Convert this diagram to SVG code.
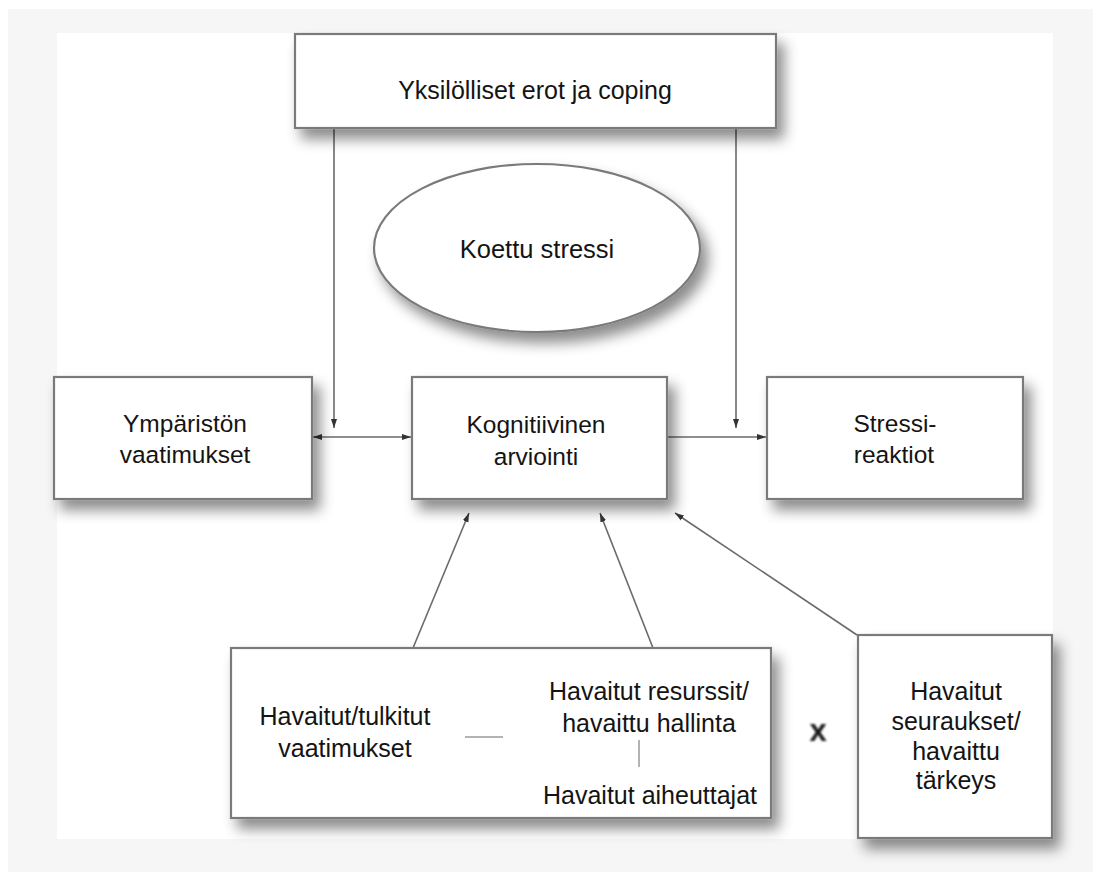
<svg xmlns="http://www.w3.org/2000/svg" width="1093" height="872" viewBox="0 0 1093 872">
  <style>
    .box { fill: #ffffff; stroke: #7a7a7a; stroke-width: 2.2; filter: url(#shadow); }
    .lbl { font-family: "Liberation Sans", Arial, sans-serif; font-size: 25px; fill: #141414; text-anchor: middle; }
    .mid { font-size: 24.5px; }
    .wire { fill: none; stroke: #6a6a6a; stroke-width: 1.6; }
    .tick { fill: none; stroke: #9a9a9a; stroke-width: 1.5; }
  </style>
  <defs>
    <filter id="shadow" x="-15%" y="-15%" width="140%" height="150%">
      <feDropShadow dx="7" dy="10" stdDeviation="7" flood-color="#000000" flood-opacity="0.45"/>
    </filter>
    <filter id="soft" x="-30%" y="-30%" width="160%" height="160%">
      <feGaussianBlur stdDeviation="0.8"/>
    </filter>
    <marker id="head" markerUnits="userSpaceOnUse" markerWidth="10" markerHeight="8" refX="9" refY="4" orient="auto-start-reverse">
      <path d="M0,1 L9,4 L0,7 z" fill="#333333"/>
    </marker>
  </defs>

  <!-- page background -->
  <rect x="0" y="0" width="1093" height="872" fill="#ffffff"/>
  <rect x="8" y="9" width="1085" height="863" fill="#f6f6f6"/>
  <rect x="57" y="33" width="996" height="806" fill="#ffffff"/>

  <!-- connectors -->
  <g id="connectors">
    <line class="wire" x1="334" y1="128" x2="334" y2="428" marker-end="url(#head)"/>
    <line class="wire" x1="736" y1="128" x2="736" y2="428" marker-end="url(#head)"/>
    <line class="wire" x1="313" y1="437" x2="411" y2="437" marker-start="url(#head)" marker-end="url(#head)"/>
    <line class="wire" x1="667" y1="437" x2="766" y2="437" marker-end="url(#head)"/>
    <line class="wire" x1="413" y1="648" x2="469" y2="513" marker-end="url(#head)"/>
    <line class="wire" x1="653" y1="648" x2="600" y2="513" marker-end="url(#head)"/>
    <line class="wire" x1="857" y1="635" x2="675" y2="513" marker-end="url(#head)"/>
  </g>

  <g id="coping">
    <rect class="box" x="295" y="34" width="481" height="94"/>
    <text class="lbl" x="535" y="99">Yksilölliset erot ja coping</text>
  </g>

  <g id="koettu-stressi">
    <ellipse class="box" cx="537" cy="248" rx="163" ry="84"/>
    <text class="lbl" x="537" y="258" style="font-size:25.5px">Koettu stressi</text>
  </g>

  <g id="ymparisto">
    <rect class="box" x="54" y="377" width="258" height="122"/>
    <text class="lbl mid" x="185" y="432">Ympäristön</text>
    <text class="lbl mid" x="185" y="463">vaatimukset</text>
  </g>

  <g id="arviointi">
    <rect class="box" x="412" y="377" width="255" height="122"/>
    <text class="lbl mid" x="536" y="433">Kognitiivinen</text>
    <text class="lbl mid" x="536" y="465">arviointi</text>
  </g>

  <g id="reaktiot">
    <rect class="box" x="767" y="377" width="256" height="122"/>
    <text class="lbl mid" x="895" y="432">Stressi-</text>
    <text class="lbl mid" x="894" y="463">reaktiot</text>
  </g>

  <g id="havainnot">
    <rect class="box" x="231" y="648" width="540" height="170"/>
    <text class="lbl" x="345" y="725">Havaitut/tulkitut</text>
    <text class="lbl" x="345" y="757">vaatimukset</text>
    <line class="tick" x1="465" y1="737" x2="503" y2="737"/>
    <text class="lbl" x="649" y="700">Havaitut resurssit/</text>
    <text class="lbl" x="649" y="732">havaittu hallinta</text>
    <line class="tick" x1="639" y1="740" x2="639" y2="767"/>
    <text class="lbl" x="650" y="804">Havaitut aiheuttajat</text>
  </g>

  <g id="kerroin">
    <text class="lbl" x="818" y="741" style="font-size:31px;font-weight:bold" filter="url(#soft)">x</text>
  </g>

  <g id="seuraukset">
    <rect class="box" x="858" y="635" width="194" height="203"/>
    <text class="lbl" x="956" y="700">Havaitut</text>
    <text class="lbl" x="956" y="730">seuraukset/</text>
    <text class="lbl" x="956" y="760">havaittu</text>
    <text class="lbl" x="956" y="789">tärkeys</text>
  </g>
</svg>
